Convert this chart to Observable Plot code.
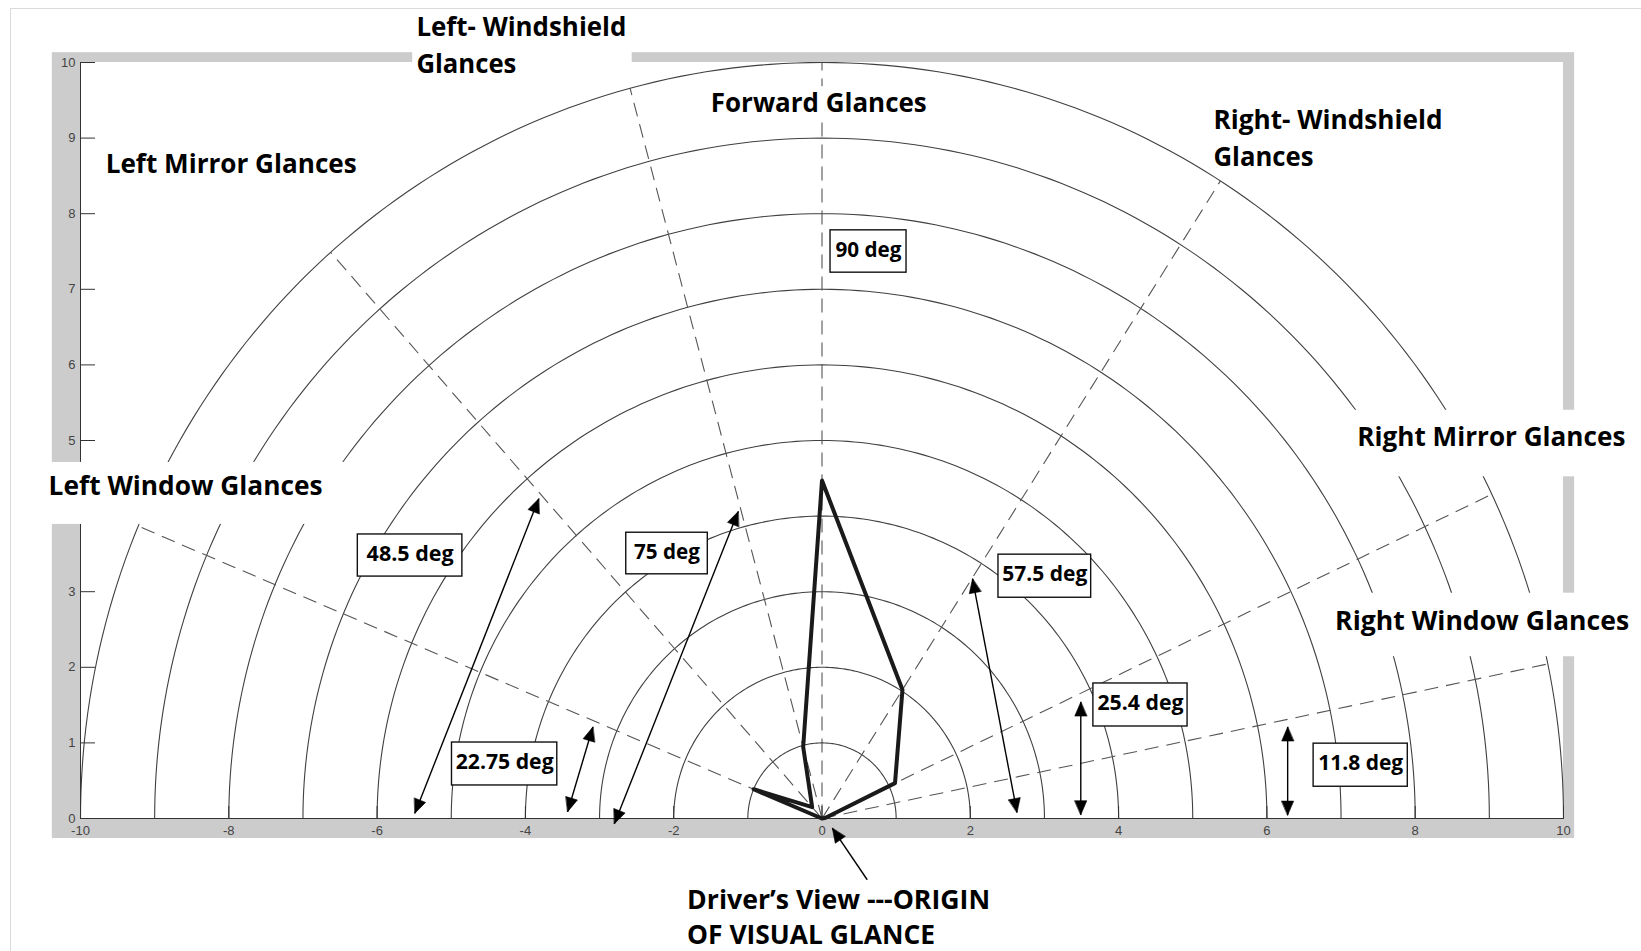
<!DOCTYPE html>
<html>
<head>
<meta charset="utf-8">
<script src="https://cdn.jsdelivr.net/npm/d3@7"></script>
<script src="https://cdn.jsdelivr.net/npm/@observablehq/plot@0.6"></script>
<style>
  html, body { margin: 0; padding: 0; background: #fff; overflow: hidden; }
  #wrap { position: relative; width: 1641px; height: 951px; }
  #border { position: absolute; left: 10px; top: 8px; width: 1640px; height: 950px; border: 1px solid #dadada; pointer-events: none; }
</style>
</head>
<body>
<div id="wrap"><div id="border"></div></div>
<script>
// ---------------- data ----------------
const ringRadii = [1, 2, 3, 4, 5, 6, 7, 8, 9, 10];
const sectorBoundaryAngles = [11.8, 25.4, 57.5, 90, 105, 131.5, 157.25]; // degrees from +x axis
const glanceAngles = [0, 11.8, 25.4, 57.5, 90, 105, 131.5, 157.25, 180];
const glanceRadii  = [0, 0.05, 1.09, 2.02, 4.47, 0.98, 0.2, 1.0, 0];
const xTickValues = [-10, -8, -6, -4, -2, 0, 2, 4, 6, 8, 10];
const yTickValues = [0, 1, 2, 3, 4, 5, 6, 7, 8, 9, 10];
const regionLabels = ["Left- Windshield", "Glances", "Forward Glances", "Right- Windshield", "Glances",
  "Left Mirror Glances", "Left Window Glances", "Right Mirror Glances", "Right Window Glances",
  "Driver’s View ---ORIGIN", "OF VISUAL GLANCE"];
const angleLabels = ["90 deg", "48.5 deg", "75 deg", "57.5 deg", "25.4 deg", "22.75 deg", "11.8 deg"];

// ---------------- annotation layout (data units) ----------------
const regionLabelPos = [
  [-5.47, 10.46], [-5.47, 9.97], [-1.50, 9.46], [5.28, 9.23], [5.28, 8.74],
  [-9.66, 8.65], [-10.43, 4.40], [7.22, 5.04], [6.92, 2.61], [-1.82, -1.085], [-1.82, -1.55]
];
const regionLabelWidth = [210, 100, 216, 229, 100, 251, 274, 268, 294, 303, 248];
const labelMasks = [
  {x1: -5.52, x2: -2.56, y1: 9.71, y2: 10.70},
  {x1: -10.67, x2: -6.33, y1: 3.89, y2: 4.71},
  {x1: 7.06, x2: 11.05, y1: 4.52, y2: 5.40},
  {x1: 6.80, x2: 11.05, y1: 2.14, y2: 2.98},
  {x1: -1.56, x2: 1.49, y1: 9.23, y2: 9.68}
];
const angleBoxes = [
  {x1: 0.115, x2: 1.14, y1: 7.22, y2: 7.78},
  {x1: -6.26, x2: -4.85, y1: 3.20, y2: 3.757},
  {x1: -2.64, x2: -1.54, y1: 3.23, y2: 3.78},
  {x1: 2.38, x2: 3.63, y1: 2.92, y2: 3.49},
  {x1: 3.66, x2: 4.93, y1: 1.217, y2: 1.786},
  {x1: -4.99, x2: -3.57, y1: 0.437, y2: 1.005},
  {x1: 6.63, x2: 7.90, y1: 0.42, y2: 0.99}
];
const angleLabelWidth = [66, 87, 66, 85, 86, 98, 85];
const arrows = [
  {x1: -5.49, y1: 0.07, x2: -3.82, y2: 4.23, both: true},
  {x1: -2.80, y1: -0.07, x2: -1.13, y2: 4.06, both: true},
  {x1: -3.43, y1: 0.09, x2: -3.09, y2: 1.21, both: true},
  {x1: 2.63, y1: 0.08, x2: 2.03, y2: 3.17, both: true},
  {x1: 3.49, y1: 0.05, x2: 3.49, y2: 1.54, both: true},
  {x1: 6.28, y1: 0.045, x2: 6.28, y2: 1.21, both: true},
  {x1: 0.61, y1: -0.81, x2: 0.14, y2: -0.13, both: false}
];

// ---------------- geometry ----------------
const W = 1641, H = 951, mL = 80, mR = 78, mT = 62, mB = 133;
const kx = (W - mL - mR) / 20, ky = (H - mT - mB) / 10;
const rad = d => d * Math.PI / 180;

const arcPoints = ringRadii.flatMap(r => d3.range(0, 181, 1).map(a => ({r, x: r * Math.cos(rad(a)), y: r * Math.sin(rad(a))})));
const glancePoints = glanceAngles.map((a, i) => ({x: glanceRadii[i] * Math.cos(rad(a)), y: glanceRadii[i] * Math.sin(rad(a))}));

function headPoly(id, tx, ty, fx, fy) {
  const dxp = (tx - fx) * kx, dyp = (ty - fy) * ky;
  const len = Math.hypot(dxp, dyp);
  const ux = dxp / len, uy = dyp / len;
  const L = 14, w = 6;
  const bx = -L * ux, by = -L * uy;
  return [
    {id, x: tx, y: ty},
    {id, x: tx + (bx - w * uy) / kx, y: ty + (by + w * ux) / ky},
    {id, x: tx + (bx + w * uy) / kx, y: ty + (by - w * ux) / ky}
  ];
}
const heads = arrows.flatMap((a, i) => {
  const out = headPoly("e" + i, a.x2, a.y2, a.x1, a.y1);
  return a.both ? out.concat(headPoly("s" + i, a.x1, a.y1, a.x2, a.y2)) : out;
});

const regionData = regionLabels.map((t, i) => ({t, x: regionLabelPos[i][0], y: regionLabelPos[i][1]}));
const angleData = angleLabels.map((t, i) => ({t, ...angleBoxes[i]}));

const chart = Plot.plot({
  width: W, height: H,
  marginLeft: mL, marginRight: mR, marginTop: mT, marginBottom: mB,
  x: {domain: [-10, 10], axis: null},
  y: {domain: [0, 10], axis: null},
  style: {background: "transparent", fontFamily: "'Open Sans', sans-serif", overflow: "visible"},
  marks: [
    Plot.rect([{x1: -10.38, x2: 10.15, y1: -0.265, y2: 10.13}], {x1: "x1", x2: "x2", y1: "y1", y2: "y2", fill: "#cccccc"}),
    Plot.rect([{x1: -10, x2: 10, y1: 0, y2: 10}], {x1: "x1", x2: "x2", y1: "y1", y2: "y2", fill: "#ffffff"}),
    Plot.line(arcPoints, {x: "x", y: "y", z: "r", stroke: "#404040", strokeWidth: 1.1}),
    Plot.link(sectorBoundaryAngles, {
      x1: () => 0, y1: () => 0,
      x2: a => 10 * Math.cos(rad(a)), y2: a => 10 * Math.sin(rad(a)),
      stroke: "#555", strokeWidth: 1.1, strokeDasharray: "14,8"
    }),
    Plot.ruleX([-10], {y1: 0, y2: 10, stroke: "#333", strokeWidth: 1}),
    Plot.ruleY([0], {x1: -10, x2: 10, stroke: "#333", strokeWidth: 1.2}),
    Plot.ruleX(xTickValues, {x: d => d, y1: 0, y2: 12 / ky, stroke: "#333"}),
    Plot.ruleY(yTickValues, {y: d => d, x1: -10, x2: -10 + 15 / kx, stroke: "#333"}),
    Plot.text(xTickValues, {x: d => d, y: 0, dy: 12, text: d => String(d), fontFamily: "'Liberation Sans', sans-serif", fontSize: 13, fill: "#444"}),
    Plot.text(yTickValues, {x: -10, y: d => d, dx: -5, text: d => String(d), textAnchor: "end", fontFamily: "'Liberation Sans', sans-serif", fontSize: 13, fill: "#444"}),
    Plot.rect(labelMasks, {x1: "x1", x2: "x2", y1: "y1", y2: "y2", fill: "#ffffff"}),
    Plot.line(glancePoints, {x: "x", y: "y", stroke: "#1a1a1a", strokeWidth: 4, strokeLinejoin: "round"}),
    Plot.link(arrows, {x1: "x1", y1: "y1", x2: "x2", y2: "y2", stroke: "#000", strokeWidth: 1.4}),
    Plot.line(heads, {x: "x", y: "y", z: "id", fill: "#000", stroke: "#000", strokeWidth: 0.6, curve: "linear-closed"}),
    Plot.rect(angleData, {x1: "x1", x2: "x2", y1: "y1", y2: "y2", fill: "#ffffff", stroke: "#111", strokeWidth: 1.4}),
    Plot.text(angleData, {x: d => (d.x1 + d.x2) / 2, y: d => (d.y1 + d.y2) / 2, dy: -2, text: "t", fontSize: 22, fontWeight: 700, fill: "#000"}),
    Plot.text(regionData, {x: "x", y: "y", text: "t", textAnchor: "start", fontSize: 27, fontWeight: 700, fill: "#000"})
  ]
});

document.getElementById("wrap").prepend(chart);

// condense the label text to the widths of the original (narrow) typeface
const widthByText = new Map();
regionLabels.forEach((t, i) => widthByText.set(t, regionLabelWidth[i]));
angleLabels.forEach((t, i) => widthByText.set(t, angleLabelWidth[i]));
chart.querySelectorAll("text").forEach(el => {
  const w = widthByText.get(el.textContent);
  if (w) { el.setAttribute("textLength", w); el.setAttribute("lengthAdjust", "spacingAndGlyphs"); }
});
</script>
</body>
</html>
